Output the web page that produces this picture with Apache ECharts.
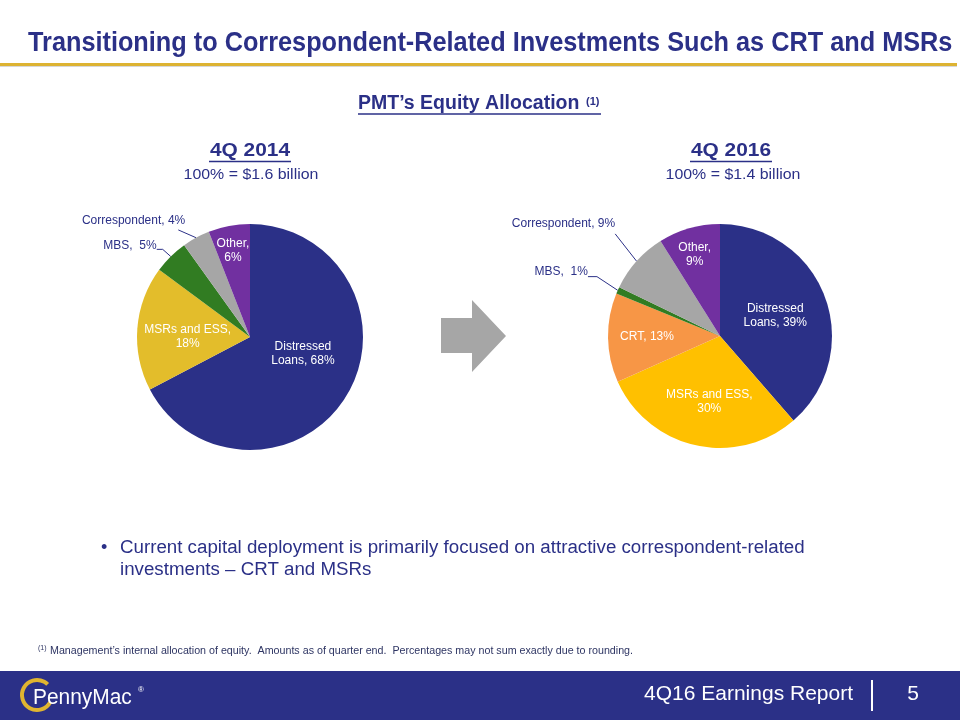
<!DOCTYPE html>
<html><head><meta charset="utf-8">
<script src="https://cdn.jsdelivr.net/npm/echarts@6/dist/echarts.min.js"></script>
<style>html,body{margin:0;padding:0;background:#fff}#c{width:960px;height:720px}</style>
</head><body><div id="c"></div>
<script>
// ---- data ----
const categories2014 = ['Distressed Loans', 'MSRs and ESS', 'MBS', 'Correspondent', 'Other'];
const values2014 = [68, 18, 5, 4, 6];
const categories2016 = ['Distressed Loans', 'MSRs and ESS', 'CRT', 'MBS', 'Correspondent', 'Other'];
const values2016 = [39, 30, 13, 1, 9, 9];
const titleText = 'Transitioning to Correspondent-Related Investments Such as CRT and MSRs';
const pieTitles = ['4Q 2014', '4Q 2016'];
const pieSubtitles = ['100% = $1.6 billion', '100% = $1.4 billion'];

// ---- styles ----
const NAVY = '#2B3087';
const FONT = 'Arial, "Liberation Sans", sans-serif';
const colorMap2014 = {'Distressed Loans':'#2B3087','MSRs and ESS':'#E3BD2B','MBS':'#317C22','Correspondent':'#A6A6A6','Other':'#7130A0'};
const colorMap2016 = {'Distressed Loans':'#2B3087','MSRs and ESS':'#FFC000','CRT':'#F79646','MBS':'#317C22','Correspondent':'#A6A6A6','Other':'#7130A0'};
const outsideNames = ['MBS','Correspondent'];
// label nudges (pixels) by slice index
const nudge2014 = [[2,-14],[-3,4],[4,-4],[5,-8],[-6,-28]];
const nudge2016 = [[0,0],[2,8],[-14,0],[-4,-13],[2,-28],[-9,-25]];
// leader-line attachment (relative to label right/bottom): [elbowDx, elbowDy, endDx]
const leader2014 = {2:[6,-3,0], 3:[-7,2,-7]};
const leader2016 = {3:[9,-2,0], 4:[0,3,0]};

function fmt(p){
  const n = p.name, v = p.value + '%';
  if (n === 'Distressed Loans') return 'Distressed\nLoans, ' + v;
  if (n === 'MSRs and ESS' || n === 'Other') return n + ',\n' + v;
  if (n === 'MBS') return n + ',  ' + v;
  return n + ', ' + v;
}
function buildData(cats, vals, cmap){
  return cats.map((c,i)=>{
    const out = outsideNames.includes(c);
    return {
      name:c, value:vals[i], itemStyle:{color:cmap[c]},
      label:{position: out?'outside':'inside', color: out?NAVY:'#fff'},
      labelLine:{show: out}
    };
  });
}
function pieSeries(center, r, cats, vals, cmap, nudge, leader, lens){
  return {
    type:'pie', center:center, radius:r, startAngle:90, clockwise:true,
    silent:true, animation:false, avoidLabelOverlap:false, minShowLabelAngle:0,
    data: buildData(cats, vals, cmap),
    itemStyle:{borderWidth:0},
    label:{formatter:fmt, fontSize:12, fontFamily:FONT, lineHeight:14, align:'center'},
    labelLine:{length:lens[0], length2:lens[1], lineStyle:{color:NAVY, width:1}},
    labelLayout: function(p){
      const d = nudge[p.dataIndex];
      if (!d) return {};
      const res = {dx:d[0], dy:d[1]};
      const pts = p.labelLinePoints, e = leader[p.dataIndex];
      if (pts && pts.length === 3 && e) {
        const R = p.labelRect.x + p.labelRect.width + d[0];
        const B = p.labelRect.y + p.labelRect.height + d[1];
        res.labelLinePoints = [pts[0].slice(), [R + e[0], B + e[1]], [R + e[2], B + e[1]]];
      }
      return res;
    },
    emphasis:{disabled:true}
  };
}

const chart = echarts.init(document.getElementById('c'));
const arrowPts = [[441,318],[472,318],[472,300],[506,336],[472,372],[472,353],[441,353]];
function T(x, y, text, font, fill, align, sx){
  return {type:'text', x:x, y:y, scaleX:sx||1, style:{text:text, font:font, fill:fill, align:align||'left', verticalAlign:'middle'}};
}
chart.setOption({
  animation:false,
  series:[
    pieSeries([250,337], 113, categories2014, values2014, colorMap2014, nudge2014, leader2014, [10,6]),
    pieSeries([720,336], 112, categories2016, values2016, colorMap2016, nudge2016, leader2016, [14,8])
  ],
  graphic:[
    T(28, 43, titleText, 'bold 28px '+FONT, NAVY, 'left', 0.903),
    {type:'rect', shape:{x:0,y:63,width:957,height:3}, style:{fill:'#DDB332'}},
    {type:'rect', shape:{x:0,y:66,width:957,height:1}, style:{fill:'#d8d8d8'}},
    T(358, 104, 'PMT\u2019s Equity Allocation', 'bold 19.5px '+FONT, NAVY, 'left'),
    T(586, 102, '(1)', 'bold 11px '+FONT, NAVY, 'left'),
    {type:'line', shape:{x1:358,y1:114,x2:601,y2:114}, style:{stroke:NAVY, lineWidth:1.5}},
    T(250, 151, pieTitles[0], 'bold 18px '+FONT, NAVY, 'center', 1.16),
    {type:'line', shape:{x1:209,y1:161.5,x2:291,y2:161.5}, style:{stroke:NAVY, lineWidth:1.5}},
    T(251, 175, pieSubtitles[0], '15px '+FONT, NAVY, 'center', 1.06),
    T(731, 151, pieTitles[1], 'bold 18px '+FONT, NAVY, 'center', 1.16),
    {type:'line', shape:{x1:690,y1:161.5,x2:772,y2:161.5}, style:{stroke:NAVY, lineWidth:1.5}},
    T(733, 175, pieSubtitles[1], '15px '+FONT, NAVY, 'center', 1.06),
    {type:'polygon', shape:{points:arrowPts}, style:{fill:'#A6A6A6'}},
    T(101, 548, '\u2022', '18px '+FONT, NAVY, 'left'),
    T(120, 548, 'Current capital deployment is primarily focused on attractive correspondent-related', '18px '+FONT, NAVY, 'left', 1.04),
    T(120, 570, 'investments \u2013 CRT and MSRs', '18px '+FONT, NAVY, 'left', 1.04),
    T(38, 648, '(1)', '7px '+FONT, '#2E3563', 'left'),
    T(50, 651, 'Management\u2019s internal allocation of equity.  Amounts as of quarter end.  Percentages may not sum exactly due to rounding.', '10.7px '+FONT, '#2E3563', 'left'),
    {type:'rect', shape:{x:0,y:671,width:960,height:49}, style:{fill:NAVY}},
    {type:'arc', shape:{cx:37,cy:695,r:15,startAngle:0.5,endAngle:5.5,clockwise:true}, style:{stroke:'#E0B530', lineWidth:4, fill:null}},
    T(33, 698, 'PennyMac', '22px '+FONT, '#fff', 'left', 0.95),
    T(138, 690, '\u00AE', '8px '+FONT, '#fff', 'left'),
    T(853, 694, '4Q16 Earnings Report', '21px '+FONT, '#fff', 'right'),
    {type:'rect', shape:{x:871,y:680,width:2,height:31}, style:{fill:'#fff'}},
    T(913, 694, '5', '21px '+FONT, '#fff', 'center')
  ]
});
</script></body></html>
